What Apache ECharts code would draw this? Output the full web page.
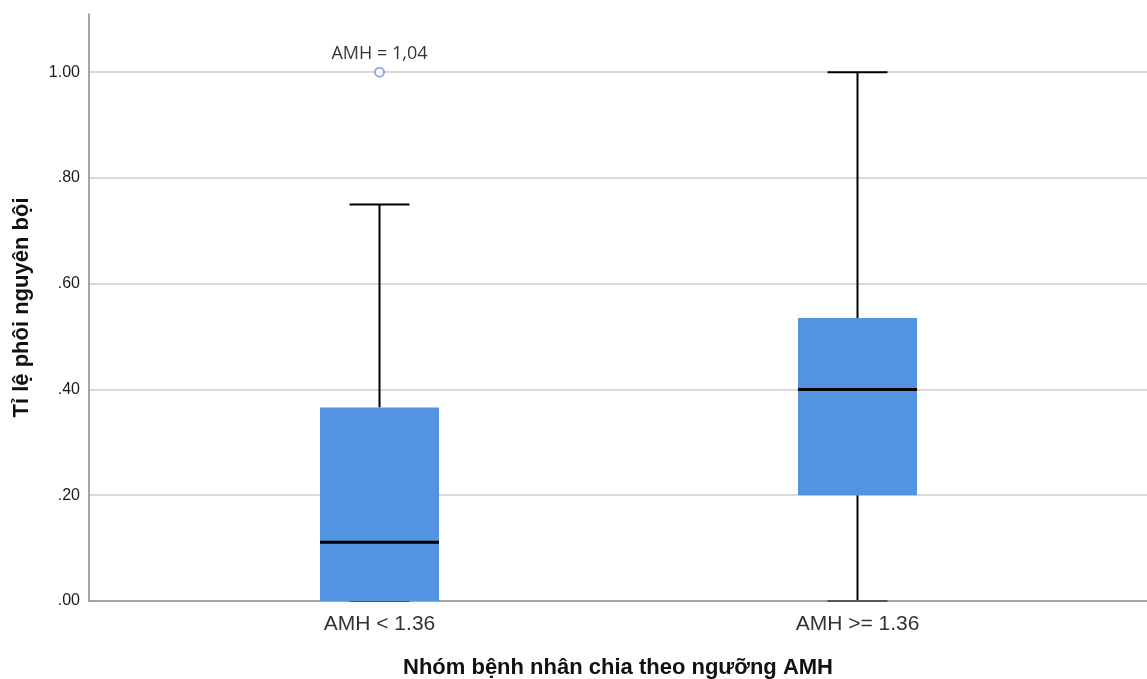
<!DOCTYPE html>
<html>
<head>
<meta charset="utf-8">
<script src="https://cdn.jsdelivr.net/npm/echarts@6/dist/echarts.min.js"></script>
<style>
html,body{margin:0;padding:0;background:#fff;}
#c{width:1147px;height:679px;}
</style>
</head>
<body>
<div id="c"></div>
<script>
// ---- data ----
const categories = ['AMH < 1.36', 'AMH >= 1.36'];
const whiskerLow  = [0.00, 0.00];
const q1          = [0.00, 0.20];
const median      = [0.111, 0.40];
const q3          = [0.366, 0.535];
const whiskerHigh = [0.75, 1.00];
const outlierCat    = [0];
const outlierValue  = [1.00];
const outlierLabels = ['AMH = 1,04'];
const yMin = 0, yMax = 1.11, yInterval = 0.2;
const xTitle = 'Nhóm bệnh nhân chia theo ngưỡng AMH';
const yTitle = 'Tỉ lệ phôi nguyên bội';

const boxData = categories.map((c, i) => [i, whiskerLow[i], q1[i], median[i], q3[i], whiskerHigh[i]]);
const outlierData = outlierCat.map((c, i) => ({value: [c, outlierValue[i]], labelText: outlierLabels[i]}));

const BOX_COLOR = '#5294e2';

const chart = echarts.init(document.getElementById('c'), null, {renderer: 'canvas'});
chart.setOption({
  animation: false,
  backgroundColor: '#ffffff',
  grid: [
    {left: 89, right: 0, top: 14, bottom: 78, containLabel: false, outerBoundsMode: 'none'},
    {left: 140.5, right: 50.5, top: 14, bottom: 78, containLabel: false, outerBoundsMode: 'none'}
  ],
  xAxis: [
    {
      gridIndex: 0, type: 'value', min: 0, max: 1,
      axisLine: {show: true, lineStyle: {color: '#888888', width: 1.5}},
      axisTick: {show: false}, axisLabel: {show: false}, splitLine: {show: false},
      name: xTitle, nameLocation: 'middle', nameGap: 56,
      nameTextStyle: {fontFamily: 'Liberation Sans', fontWeight: 'bold', fontSize: 22, color: '#111'}
    },
    {
      gridIndex: 1, type: 'category', data: categories, boundaryGap: true,
      axisLine: {show: false}, axisTick: {show: false}, splitLine: {show: false},
      axisLabel: {fontFamily: 'Liberation Sans', fontSize: 21, color: '#333', margin: 13}
    }
  ],
  yAxis: [
    {
      gridIndex: 0, type: 'value', min: yMin, max: yMax, interval: yInterval,
      axisLine: {show: true, lineStyle: {color: '#888888', width: 1.5}},
      axisTick: {show: false},
      axisLabel: {
        fontFamily: 'Liberation Sans', fontSize: 16, color: '#1a1a1a', margin: 9,
        showMaxLabel: false,
        formatter: v => v.toFixed(2).replace(/^0/, '')
      },
      splitLine: {show: true, showMinLine: false, showMaxLine: false, lineStyle: {color: '#cccccc', width: 1.5}},
      name: yTitle, nameLocation: 'middle', nameGap: 56, nameRotate: 90,
      nameTextStyle: {fontFamily: 'Liberation Sans', fontWeight: 'bold', fontSize: 22, color: '#111'}
    },
    {
      gridIndex: 1, type: 'value', min: yMin, max: yMax, interval: yInterval, show: false
    }
  ],
  series: [
    {
      type: 'custom',
      xAxisIndex: 1, yAxisIndex: 1,
      data: boxData,
      encode: {x: 0, y: [1, 2, 3, 4, 5]},
      renderItem: function (params, api) {
        const idx = api.value(0);
        const band = api.size([1, 0])[0];
        const bw = band * 0.249;
        const cw = bw * 0.504;
        const pLow = api.coord([idx, api.value(1)]);
        const pQ1 = api.coord([idx, api.value(2)]);
        const pMed = api.coord([idx, api.value(3)]);
        const pQ3 = api.coord([idx, api.value(4)]);
        const pHigh = api.coord([idx, api.value(5)]);
        const cx = pQ1[0];
        const lineStyle = {stroke: '#000', lineWidth: 2};
        return {
          type: 'group',
          children: [
            {type: 'line', shape: {x1: cx, y1: pHigh[1], x2: cx, y2: pQ3[1]}, style: lineStyle},
            {type: 'line', shape: {x1: cx, y1: pQ1[1], x2: cx, y2: pLow[1]}, style: lineStyle},
            {type: 'line', shape: {x1: cx - cw / 2, y1: pHigh[1], x2: cx + cw / 2, y2: pHigh[1]}, style: lineStyle},
            {type: 'line', shape: {x1: cx - cw / 2, y1: pLow[1], x2: cx + cw / 2, y2: pLow[1]}, style: {stroke: '#555', lineWidth: 2}},
            {type: 'rect', shape: {x: cx - bw / 2, y: pQ3[1], width: bw, height: pQ1[1] - pQ3[1]}, style: {fill: BOX_COLOR}},
            {type: 'line', shape: {x1: cx - bw / 2, y1: pMed[1], x2: cx + bw / 2, y2: pMed[1]}, style: {stroke: '#000', lineWidth: 3}}
          ]
        };
      },
      z: 3
    },
    {
      type: 'scatter',
      xAxisIndex: 1, yAxisIndex: 1,
      data: outlierData,
      symbol: 'emptyCircle', symbolSize: 9,
      itemStyle: {color: '#6f9be6', borderWidth: 1.5},
      label: {
        show: true, position: 'top', distance: 4,
        formatter: p => p.data.labelText,
        fontFamily: 'Open Sans', fontSize: 18, color: '#000'
      },
      z: 4
    }
  ]
});
</script>
</body>
</html>
